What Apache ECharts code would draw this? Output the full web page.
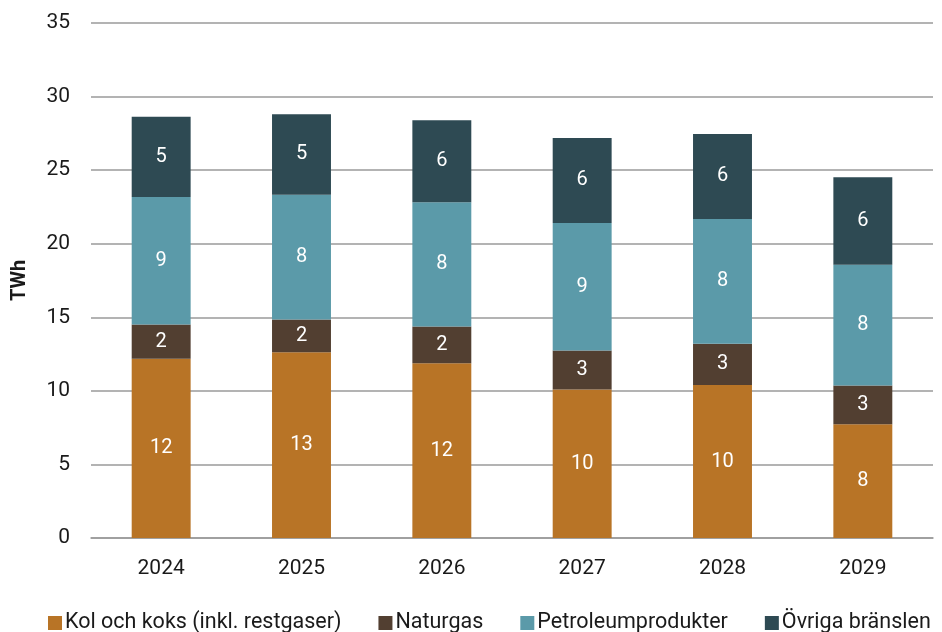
<!DOCTYPE html>
<html>
<head>
<meta charset="utf-8">
<script src="https://cdn.jsdelivr.net/npm/echarts@6/dist/echarts.min.js"></script>
<style>
  html, body { margin: 0; padding: 0; background: #fff; }
  #chart { width: 942px; height: 632px; }
</style>
</head>
<body>
<div id="chart"></div>
<script>
// Fuel use per year, TWh
const years = ['2024', '2025', '2026', '2027', '2028', '2029'];
const kolOchKoks = [12.18, 12.63, 11.88, 10.09, 10.39, 7.73];
const naturgas = [2.33, 2.22, 2.49, 2.65, 2.81, 2.63];
const petroleum = [8.67, 8.48, 8.45, 8.67, 8.48, 8.21];
const ovriga = [5.45, 5.47, 5.57, 5.78, 5.78, 5.94];
const yTicks = [0, 5, 10, 15, 20, 25, 30, 35];

const seriesDefs = [
  { name: 'Kol och koks (inkl. restgaser)', data: kolOchKoks, color: '#B87426' },
  { name: 'Naturgas', data: naturgas, color: '#523F31' },
  { name: 'Petroleumprodukter', data: petroleum, color: '#5B9AA9' },
  { name: 'Övriga bränslen', data: ovriga, color: '#2E4A53' }
];

const FONT = 'Roboto';
const chart = echarts.init(document.getElementById('chart'));

chart.setOption({
  animation: false,
  textStyle: { fontFamily: FONT },
  grid: { left: 91, right: 9, top: 23, bottom: 94, containLabel: false },
  legend: {
    bottom: -2,
    left: 48,
    width: 1000,
    padding: 0,
    itemWidth: 14,
    itemHeight: 14,
    itemGap: 37,
    icon: 'rect',
    textStyle: { fontSize: 21.5, color: '#1a1a1a', fontFamily: FONT, padding: [0, 0, 0, -2] },
    data: seriesDefs.map(s => s.name)
  },
  xAxis: {
    type: 'category',
    data: years,
    axisLine: { lineStyle: { color: '#9a9a9a', width: 1.5 } },
    axisTick: { show: false },
    axisLabel: { fontSize: 21, color: '#1a1a1a', margin: 20 }
  },
  yAxis: {
    type: 'value',
    min: yTicks[0],
    max: yTicks[yTicks.length - 1],
    interval: 5,
    name: 'TWh',
    nameLocation: 'middle',
    nameGap: 61,
    nameTextStyle: { fontSize: 20, fontWeight: 'bold', color: '#1a1a1a' },
    axisLine: { show: false },
    axisTick: { show: false },
    axisLabel: { fontSize: 21, color: '#1a1a1a', margin: 21 },
    splitLine: { lineStyle: { color: '#9a9a9a', width: 1.5 } }
  },
  series: seriesDefs.map(s => ({
    name: s.name,
    type: 'bar',
    stack: 'total',
    barWidth: '42%',
    data: s.data,
    itemStyle: { color: s.color },
    label: {
      show: true,
      position: 'inside',
      color: '#ffffff',
      fontSize: 20,
      formatter: p => Math.round(p.value)
    }
  }))
});
</script>
</body>
</html>
